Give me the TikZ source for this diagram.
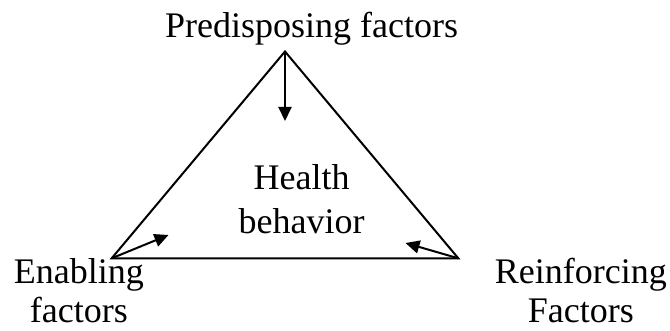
\documentclass[tikz,border=0pt]{standalone}
\usepackage{fontspec}
\setmainfont{Liberation Serif}
\usetikzlibrary{arrows.meta}
\begin{document}
\begin{tikzpicture}[x=1pt,y=-1pt,
  edge/.style={line width=2pt},
  arr/.style={line width=2pt,-{Triangle[length=14pt,width=13pt]}},
  lbl/.style={font=\fontsize{36}{40}\selectfont,align=center,anchor=base,inner sep=0pt}]
\useasboundingbox (0,0) rectangle (670,331);
\coordinate (A) at (285,51.5);
\coordinate (B) at (111.7,258.3);
\coordinate (C) at (458.3,258.3);
\coordinate (Ta) at (285,121);
\coordinate (Tb) at (168.5,235);
\coordinate (Tc) at (405.5,243);
\draw[edge,line join=miter] (A) -- (B) -- (C) -- cycle;
\draw[arr] (A) -- (Ta);
\draw[arr] (B) -- (Tb);
\draw[arr] (C) -- (Tc);
\node[lbl] (pre) at (311.7,37.3) {Predisposing factors};
\node[lbl,font=\fontsize{36}{44}\selectfont] (hb) at (301.7,233.3) {Health\\behavior};
\node[lbl,font=\fontsize{36}{39}\selectfont] (en) at (78.8,322.5) {Enabling\\factors};
\node[lbl,font=\fontsize{36}{39}\selectfont] (re) at (580.8,322.5) {Reinforcing\\Factors};
\end{tikzpicture}
\end{document}
